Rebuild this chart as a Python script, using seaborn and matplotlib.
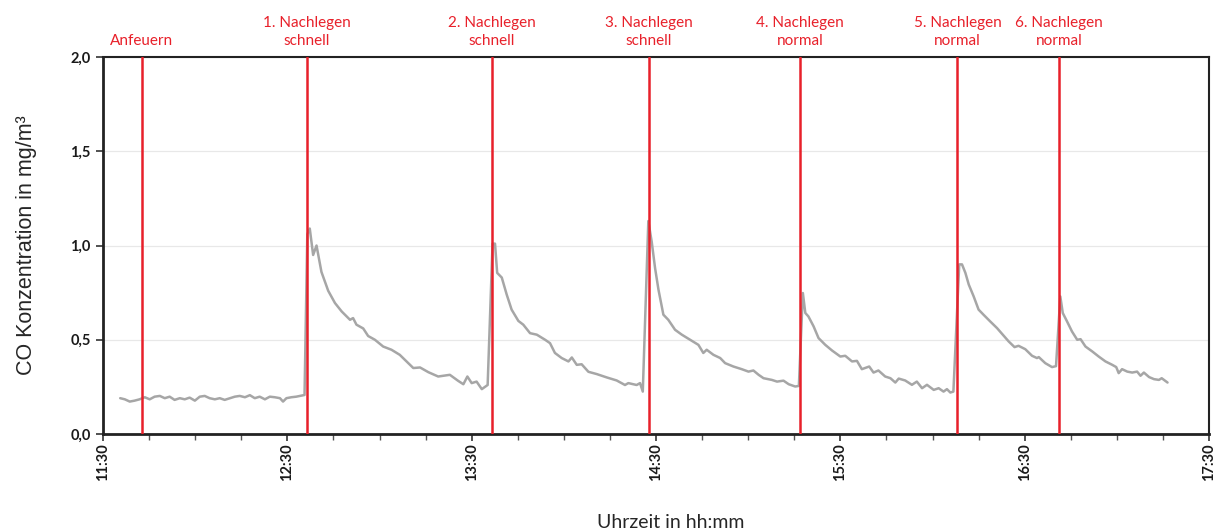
import numpy as np
import pandas as pd
import matplotlib
matplotlib.use("Agg")
import matplotlib.pyplot as plt
import matplotlib.transforms as mtransforms
from matplotlib.ticker import MultipleLocator, FixedLocator
import seaborn as sns

# ---- data (time in minutes after 11:30, CO in mg/m^3) ----
seg0_t = [5.6, 7.1, 8.7, 10.3, 11.9, 13.6, 15.2, 16.8, 18.5, 20.1, 21.7, 23.3, 25.0, 26.6,
          28.2, 29.9, 31.5, 33.1, 34.7, 36.4, 38.0, 39.6, 41.3, 42.9, 44.5, 46.2, 47.8,
          49.4, 51.0, 52.7, 54.3, 55.9, 57.6, 58.6, 59.7, 61.3, 62.9, 64.6, 65.6]
seg0_v = [0.190, 0.184, 0.172, 0.177, 0.184, 0.195, 0.184, 0.198, 0.202, 0.190, 0.198, 0.181,
          0.190, 0.184, 0.193, 0.177, 0.198, 0.202, 0.190, 0.184, 0.190, 0.181, 0.190, 0.198,
          0.202, 0.195, 0.206, 0.190, 0.198, 0.184, 0.198, 0.195, 0.190, 0.172, 0.190, 0.195,
          0.198, 0.204, 0.207]

seg1_t = [66.5, 67.3, 68.4, 69.5, 71.1, 73.3, 75.5, 77.7, 80.4, 81.4, 82.5, 84.7, 86.3, 88.5,
          91.2, 93.9, 96.6, 98.8, 101.0, 103.2, 105.9, 109.1, 112.9, 115.6, 117.3, 118.6,
          120.0, 121.6, 123.3, 125.2]
seg1_v = [1.06, 1.09, 0.95, 1.00, 0.86, 0.76, 0.695, 0.65, 0.606, 0.615, 0.58, 0.56, 0.52,
          0.50, 0.464, 0.447, 0.42, 0.385, 0.35, 0.353, 0.328, 0.305, 0.314, 0.282, 0.264,
          0.305, 0.27, 0.278, 0.238, 0.26]

seg2_t = [126.8, 127.6, 128.3, 129.8, 131.4, 133.0, 135.2, 136.8, 139.0, 141.2, 143.9, 145.5,
          147.1, 149.3, 151.5, 152.6, 154.2, 155.8, 158.0, 160.7, 164.0, 167.2, 169.9, 171.0,
          173.7, 174.8, 175.7]
seg2_v = [1.01, 1.01, 0.855, 0.83, 0.74, 0.66, 0.60, 0.58, 0.535, 0.527, 0.50, 0.482, 0.43,
          0.403, 0.385, 0.406, 0.367, 0.37, 0.33, 0.318, 0.30, 0.284, 0.26, 0.27, 0.26, 0.27,
          0.225]

seg3_t = [177.5, 178.6, 179.7, 180.8, 182.4, 184.0, 186.2, 188.4, 191.1, 193.8, 195.4, 196.5,
          198.7, 200.9, 202.5, 205.2, 207.9, 210.1, 211.7, 213.4, 215.0, 217.7, 219.4, 221.5,
          223.2, 225.3, 226.5]
seg3_v = [1.13, 1.02, 0.88, 0.766, 0.633, 0.606, 0.553, 0.527, 0.50, 0.473, 0.43, 0.447, 0.42,
          0.403, 0.376, 0.358, 0.344, 0.331, 0.337, 0.314, 0.296, 0.287, 0.278, 0.283, 0.264,
          0.252, 0.255]

seg4_t = [227.8, 228.6, 229.6, 231.3, 232.9, 235.1, 237.3, 240.0, 241.6, 243.8, 245.4, 247.0,
          249.4, 250.8, 252.4, 254.6, 256.3, 257.9, 259.0, 261.1, 263.3, 264.9, 266.6, 268.2,
          270.4, 272.0, 273.6, 274.7, 275.8, 276.8]
seg4_v = [0.748, 0.642, 0.624, 0.571, 0.509, 0.473, 0.443, 0.411, 0.415, 0.385, 0.388, 0.344,
          0.358, 0.326, 0.337, 0.305, 0.296, 0.273, 0.294, 0.284, 0.261, 0.278, 0.243, 0.261,
          0.234, 0.243, 0.225, 0.238, 0.22, 0.225]

seg5_t = [278.7, 279.6, 280.7, 281.8, 283.4, 285.0, 286.6, 288.8, 291.0, 293.2, 294.8, 296.7,
          298.0, 300.2, 302.4, 304.0, 304.6, 306.7, 308.9, 310.2]
seg5_v = [0.90, 0.90, 0.855, 0.793, 0.73, 0.66, 0.633, 0.597, 0.562, 0.521, 0.491, 0.461,
          0.468, 0.45, 0.415, 0.403, 0.408, 0.376, 0.355, 0.36]

seg6_t = [311.6, 312.4, 313.8, 315.4, 317.1, 318.2, 319.8, 322.0, 324.1, 326.3, 328.5, 329.8,
          330.6, 331.7, 333.4, 335.0, 336.6, 337.7, 338.8, 340.5, 342.1, 343.7, 344.6, 346.5]
seg6_v = [0.73, 0.642, 0.597, 0.544, 0.50, 0.503, 0.464, 0.438, 0.411, 0.385, 0.367, 0.355,
          0.323, 0.344, 0.331, 0.326, 0.331, 0.309, 0.326, 0.302, 0.291, 0.287, 0.296, 0.273]

event_times = [12.6, 66.4, 126.5, 177.6, 226.9, 278.1, 311.2]
event_labels = ["Anfeuern", "1. Nachlegen\nschnell", "2. Nachlegen\nschnell",
                "3. Nachlegen\nschnell", "4. Nachlegen\nnormal", "5. Nachlegen\nnormal",
                "6. Nachlegen\nnormal"]

x_tick_pos = [0, 60, 120, 180, 240, 300, 360]
x_tick_labels = ["11:30", "12:30", "13:30", "14:30", "15:30", "16:30", "17:30"]
y_ticks = [0.0, 0.5, 1.0, 1.5, 2.0]
y_tick_labels = ["0,0", "0,5", "1,0", "1,5", "2,0"]

df = pd.DataFrame({
    "t": np.concatenate([seg0_t, seg1_t, seg2_t, seg3_t, seg4_t, seg5_t, seg6_t]),
    "co": np.concatenate([seg0_v, seg1_v, seg2_v, seg3_v, seg4_v, seg5_v, seg6_v]),
})

sns.set_style("white")
plt.rcParams["font.family"] = ["Lato", "DejaVu Sans"]

fig = plt.figure(figsize=(12.19, 5.29), dpi=100)
ax = fig.add_axes([0.0845, 0.1796, 0.9073, 0.7125])

ax.yaxis.grid(True, color="#e8e8e8", linewidth=0.9, zorder=0)
ax.set_axisbelow(True)

sns.lineplot(data=df, x="t", y="co", color="#a6a6a6", linewidth=1.8, ax=ax,
             sort=False, estimator=None, zorder=3)

red = "#e8202a"
trans = mtransforms.blended_transform_factory(ax.transData, ax.transAxes)
for t, lab in zip(event_times, event_labels):
    ax.axvline(t, color=red, linewidth=1.8, zorder=4)
    ax.text(t, 1.025, lab, transform=trans, ha="center", va="bottom", color=red,
            fontsize=11, linespacing=1.3)

ax.set_xlim(0, 360)
ax.set_ylim(0, 2.0)
ax.xaxis.set_major_locator(FixedLocator(x_tick_pos))
ax.set_xticklabels(x_tick_labels, rotation=90, fontweight="bold", fontsize=10.5,
                   color="#1a1a1a")
ax.xaxis.set_minor_locator(MultipleLocator(15))
ax.set_yticks(y_ticks)
ax.set_yticklabels(y_tick_labels, fontweight="bold", fontsize=10.5, color="#1a1a1a")

ax.tick_params(axis="x", which="major", direction="out", length=5, width=1.2,
               color="#333333", bottom=True, pad=2)
ax.tick_params(axis="x", which="minor", direction="out", length=4, width=1.0,
               color="#555555", bottom=True)
ax.tick_params(axis="y", which="major", direction="out", length=5, width=1.2,
               color="#333333", left=True, pad=4)

for side in ["left", "bottom"]:
    ax.spines[side].set_color("#222222")
    ax.spines[side].set_linewidth(2.0)
for side in ["top", "right"]:
    ax.spines[side].set_color("#222222")
    ax.spines[side].set_linewidth(1.5)
    ax.spines[side].set_visible(True)

ax.set_xlabel("Uhrzeit in hh:mm", fontsize=14)
ax.xaxis.set_label_coords(0.5136, -0.212)
ax.set_ylabel("CO Konzentration in mg/m³", fontsize=15.5, family="Liberation Sans",
              labelpad=24)

fig.savefig("out.png", dpi=100)
